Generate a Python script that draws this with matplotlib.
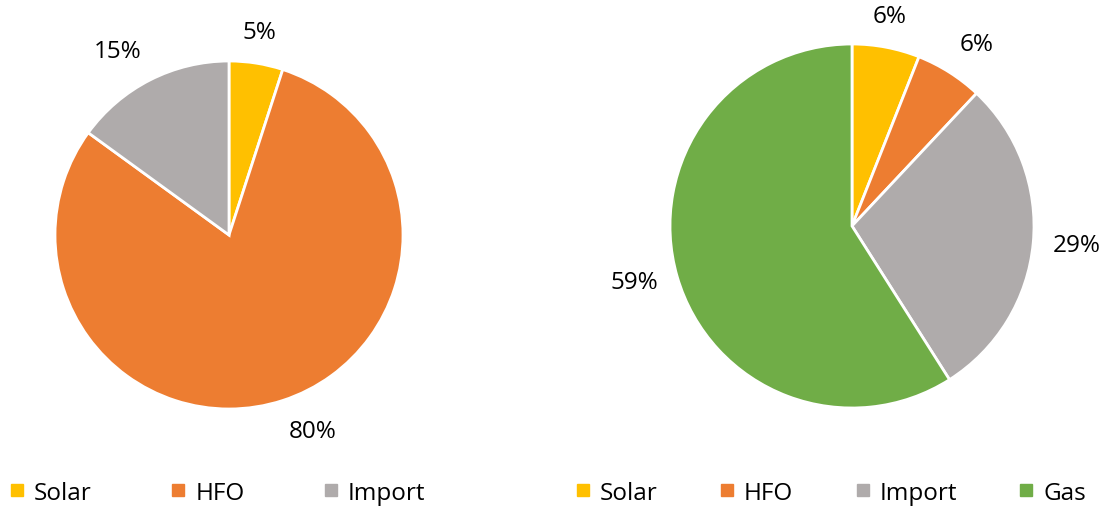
import matplotlib
matplotlib.use("Agg")
import matplotlib.pyplot as plt
from matplotlib.lines import Line2D
import numpy as np

plt.rcParams['font.family'] = ['Open Sans', 'DejaVu Sans']

# Структура генерации: до и после
left_labels = ['Solar', 'HFO', 'Import']
left_values = [5, 80, 15]

right_labels = ['Solar', 'HFO', 'Import', 'Gas']
right_values = [6, 6, 29, 59]

colors = {
    'Solar': '#FFC000',
    'HFO': '#ED7D31',
    'Import': '#AFABAB',
    'Gas': '#70AD47',
}

W, H = 1107, 510
FS = 17.5
fig = plt.figure(figsize=(W / 100, H / 100), dpi=100)


def draw_pie(cx, cy, r, labels, values):
    # оси в пикселях: центр (cx, cy), радиус r
    ax = fig.add_axes([(cx - r) / W, 1 - (cy + r) / H, 2 * r / W, 2 * r / H])
    wedges, _ = ax.pie(values, colors=[colors[l] for l in labels],
                       startangle=90, counterclock=False, radius=1.0,
                       wedgeprops=dict(edgecolor='white', linewidth=2.0))
    total = sum(values)
    # подписи снаружи, у края сектора
    for w, v in zip(wedges, values):
        ang = np.deg2rad((w.theta1 + w.theta2) / 2)
        c, s = np.cos(ang), np.sin(ang)
        ha = 'left' if c > 0.2 else ('right' if c < -0.2 else 'center')
        va = 'bottom' if s > 0.3 else ('top' if s < -0.3 else 'center')
        ax.annotate(f'{100 * v / total:.0f}%', xy=(c, s),
                    xytext=(14 * c, 14 * s), textcoords='offset points',
                    ha=ha, va=va, fontsize=FS, color='black')
    ax.set_xlim(-1, 1)
    ax.set_ylim(-1, 1)
    ax.set_aspect('equal')
    ax.axis('off')


def draw_legend(x, y, labels, spacing):
    handles = [Line2D([], [], marker='s', linestyle='none', markersize=8,
                      markerfacecolor=colors[l], markeredgecolor=colors[l])
               for l in labels]
    fig.legend(handles, labels, loc='center left',
               bbox_to_anchor=(x / W, 1 - y / H), ncol=len(labels),
               frameon=False, fontsize=FS, handlelength=0.5,
               handletextpad=0.45, columnspacing=spacing,
               borderpad=0, borderaxespad=0, labelcolor='black')


draw_pie(229, 236, 174, left_labels, left_values)
draw_pie(852, 227, 182, right_labels, right_values)

draw_legend(11, 494, left_labels, 3.3)
draw_legend(577, 494, right_labels, 2.6)

fig.savefig('out.png', dpi=100)
